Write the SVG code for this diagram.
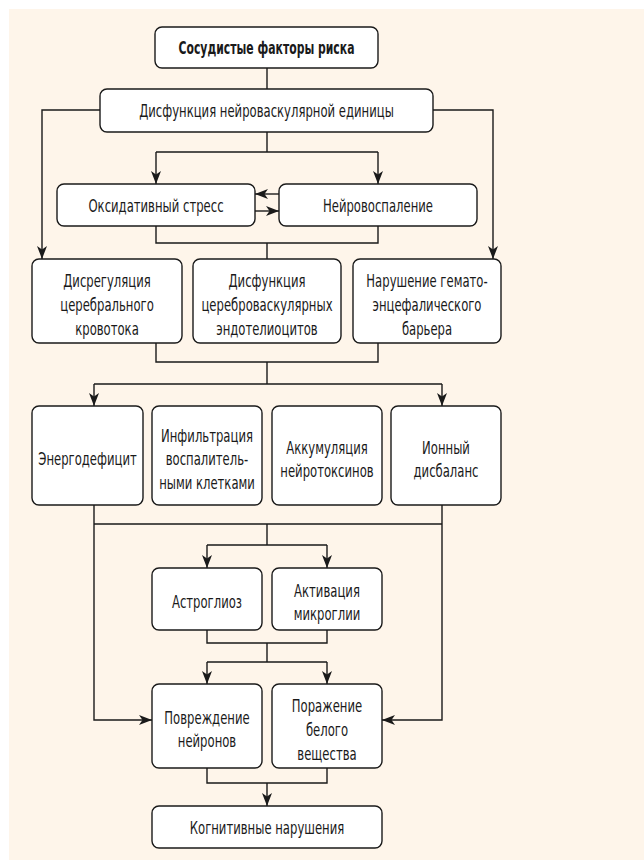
<svg xmlns="http://www.w3.org/2000/svg" width="644" height="860" viewBox="0 0 644 860">
<style>
.box{fill:#ffffff;stroke:#1a1a1a;stroke-width:1.4}
.t{font-family:"DejaVu Sans Condensed","DejaVu Sans","Liberation Sans",sans-serif;font-size:17.5px;fill:#1a1a1a;text-anchor:middle}
.b{font-weight:bold}
.c{fill:none;stroke:#1a1a1a;stroke-width:1.4}
.a{marker-end:url(#arr)}
</style>
<defs>
<marker id="arr" markerUnits="userSpaceOnUse" markerWidth="14" markerHeight="11" refX="13" refY="5.5" orient="auto">
<path d="M0,0.5 L13,5.5 L0,10.5 L3.5,5.5 z" fill="#1a1a1a"/>
</marker>
</defs>
<rect x="9" y="9" width="635" height="851" fill="#fef5ea"/>
<g id="connectors">
<path class="c" d="M267,68 V89"/>
<path class="c a" d="M100,110 H42 V259"/>
<path class="c a" d="M433,110 H493 V259"/>
<path class="c" d="M267,132 V152 M156,152 H378"/>
<path class="c a" d="M156,152 V184"/>
<path class="c a" d="M378,152 V184"/>
<path class="c a" d="M279,194 H255"/>
<path class="c a" d="M255,211 H279"/>
<path class="c" d="M156,226 V243 H378 V226 M267,243 V259"/>
<path class="c" d="M156,343 V362 H378 V343 M267,362 V384 M94,384 H442"/>
<path class="c a" d="M94,384 V406"/>
<path class="c a" d="M442,384 V406"/>
<path class="c a" d="M94,505 V720 H152"/>
<path class="c a" d="M442,505 V720 H382"/>
<path class="c" d="M94,524 H442 M267,524 V545 M207,545 H327"/>
<path class="c a" d="M207,545 V568"/>
<path class="c a" d="M327,545 V568"/>
<path class="c" d="M207,630 V643 H327 V630 M267,643 V662 M207,662 H327"/>
<path class="c a" d="M207,662 V684"/>
<path class="c a" d="M327,662 V684"/>
<path class="c" d="M207,768 V783 H327 V768"/>
<path class="c a" d="M267,783 V806"/>
</g>
<g id="n1"><rect class="box" x="155" y="27" width="223" height="41" rx="7"/><text class="t b" transform="translate(266.5,53.5) scale(0.69,1)">Сосудистые факторы риска</text></g>
<g id="n2"><rect class="box" x="100" y="89" width="333" height="43" rx="7"/><text class="t" transform="translate(266.5,116.5) scale(0.74,1)">Дисфункция нейроваскулярной единицы</text></g>
<g id="n3"><rect class="box" x="57" y="184" width="198" height="42" rx="7"/><text class="t" transform="translate(156,211.5) scale(0.74,1)">Оксидативный стресс</text></g>
<g id="n4"><rect class="box" x="279" y="184" width="198" height="42" rx="7"/><text class="t" transform="translate(378,211.5) scale(0.74,1)">Нейровоспаление</text></g>
<g id="n5"><rect class="box" x="32" y="259" width="150" height="84" rx="7"/><text class="t" transform="translate(107,286.5) scale(0.74,1)">Дисрегуляция</text><text class="t" transform="translate(107,310.5) scale(0.74,1)">церебрального</text><text class="t" transform="translate(107,334.5) scale(0.74,1)">кровотока</text></g>
<g id="n6"><rect class="box" x="193" y="259" width="148" height="84" rx="7"/><text class="t" transform="translate(267,286.5) scale(0.74,1)">Дисфункция</text><text class="t" transform="translate(267,310.5) scale(0.74,1)">цереброваскулярных</text><text class="t" transform="translate(267,334.5) scale(0.74,1)">эндотелиоцитов</text></g>
<g id="n7"><rect class="box" x="353" y="259" width="148" height="84" rx="7"/><text class="t" transform="translate(427,286.5) scale(0.74,1)">Нарушение гемато-</text><text class="t" transform="translate(427,310.5) scale(0.74,1)">энцефалического</text><text class="t" transform="translate(427,334.5) scale(0.74,1)">барьера</text></g>
<g id="n8"><rect class="box" x="32" y="406" width="111" height="99" rx="7"/><text class="t" transform="translate(87.5,464.5) scale(0.74,1)">Энергодефицит</text></g>
<g id="n9"><rect class="box" x="152" y="406" width="110" height="99" rx="7"/><text class="t" transform="translate(207,441.5) scale(0.74,1)">Инфильтрация</text><text class="t" transform="translate(207,464.5) scale(0.74,1)">воспалитель-</text><text class="t" transform="translate(207,488.5) scale(0.74,1)">ными клетками</text></g>
<g id="n10"><rect class="box" x="272" y="406" width="110" height="99" rx="7"/><text class="t" transform="translate(327,453.5) scale(0.74,1)">Аккумуляция</text><text class="t" transform="translate(327,476.5) scale(0.74,1)">нейротоксинов</text></g>
<g id="n11"><rect class="box" x="391" y="406" width="110" height="99" rx="7"/><text class="t" transform="translate(446,453.5) scale(0.74,1)">Ионный</text><text class="t" transform="translate(446,476.5) scale(0.74,1)">дисбаланс</text></g>
<g id="n12"><rect class="box" x="152" y="568" width="110" height="62" rx="7"/><text class="t" transform="translate(207,607.5) scale(0.74,1)">Астроглиоз</text></g>
<g id="n13"><rect class="box" x="272" y="568" width="110" height="62" rx="7"/><text class="t" transform="translate(327,596.5) scale(0.74,1)">Активация</text><text class="t" transform="translate(327,619.5) scale(0.74,1)">микроглии</text></g>
<g id="n14"><rect class="box" x="152" y="684" width="110" height="84" rx="7"/><text class="t" transform="translate(207,723.5) scale(0.74,1)">Повреждение</text><text class="t" transform="translate(207,746.5) scale(0.74,1)">нейронов</text></g>
<g id="n15"><rect class="box" x="272" y="684" width="110" height="84" rx="7"/><text class="t" transform="translate(327,711.5) scale(0.74,1)">Поражение</text><text class="t" transform="translate(327,735.5) scale(0.74,1)">белого</text><text class="t" transform="translate(327,759.5) scale(0.74,1)">вещества</text></g>
<g id="n16"><rect class="box" x="152" y="806" width="230" height="42" rx="7"/><text class="t" transform="translate(267,833.5) scale(0.74,1)">Когнитивные нарушения</text></g>
</svg>
